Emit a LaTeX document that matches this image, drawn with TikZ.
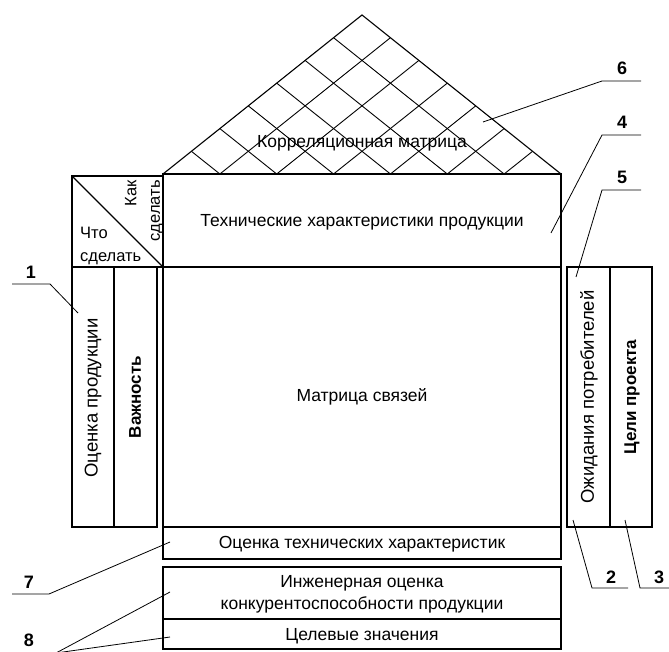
\documentclass[tikz,border=0pt]{standalone}
\usepackage{fontspec}
\setmainfont{Liberation Sans}
\usetikzlibrary{calc}
\begin{document}
\begin{tikzpicture}[x=1pt,y=-1pt,
  frame/.style={draw=black,line width=1.1pt},
  grid/.style={draw=black,line width=0.9pt},
  lead/.style={draw=black,line width=0.8pt},
  lbl/.style={inner sep=0pt,font=\fontsize{17.5}{22}\selectfont},
  clbl/.style={inner sep=0pt,font=\fontsize{16.5}{23.5}\selectfont},
  vlbl/.style={inner sep=0pt,font=\fontsize{18.5}{22}\selectfont},
  blbl/.style={inner sep=0pt,font=\fontsize{17}{22}\selectfont\bfseries},
  num/.style={inner sep=0pt,font=\fontsize{18}{20}\selectfont\bfseries}]
\useasboundingbox (0,0) rectangle (669,652);
% roof
\coordinate (L) at (163,174);
\coordinate (R) at (561,174);
\coordinate (A) at (362,15);
\foreach \i in {1,...,6}{
  \draw[grid] ($(L)!\i/7!(R)$) -- ($(R)!{(7-\i)/7}!(A)$);
  \draw[grid] ($(L)!\i/7!(R)$) -- ($(L)!\i/7!(A)$);
}
\draw[frame] (L) -- (A) -- (R);
\node[lbl] (corr) at (362,143) {Корреляционная матрица};
% technical characteristics
\draw[frame] (163,174) rectangle (561,267);
\node[lbl] (tech) at (362,222) {Технические характеристики продукции};
% corner box
\draw[frame] (72,176) rectangle (163,267);
\draw[frame] (72,176) -- (163,267);
\node[clbl,align=left,anchor=west] (what) at (80,246) {Что\\сделать};
\node[clbl,align=right,rotate=90,anchor=east] (how) at (144,180) {Как\\сделать};
% left columns
\draw[frame] (72,267) rectangle (157,527);
\draw[frame] (114,267) -- (114,527);
\node[vlbl,rotate=90] (evalp) at (93,398) {Оценка продукции};
\node[blbl,rotate=90] (imp) at (135,397) {Важность};
% main matrix
\draw[frame] (163,267) rectangle (561,527);
\node[lbl] (rel) at (362,397) {Матрица связей};
% right columns
\draw[frame] (567,267) rectangle (652,527);
\draw[frame] (610,267) -- (610,527);
\node[vlbl,rotate=90] (exp) at (589,397) {Ожидания потребителей};
\node[blbl,rotate=90] (goal) at (632,397) {Цели проекта};
% bottom boxes
\draw[frame] (163,527) rectangle (561,559);
\node[lbl] (evalt) at (362,544) {Оценка технических характеристик};
\draw[frame] (163,567) rectangle (561,649);
\draw[frame] (163,619) -- (561,619);
\node[lbl,align=center] (eng) at (362,594) {Инженерная оценка\\конкурентоспособности продукции};
\node[lbl] (target) at (362,636) {Целевые значения};
% number labels
\node[num] (n1) at (31,272) {1};
\node[num] (n6) at (622,68) {6};
\node[num] (n4) at (622,122) {4};
\node[num] (n5) at (622,177) {5};
\node[num] (n2) at (611,577) {2};
\node[num] (n3) at (659,577) {3};
\node[num] (n7) at (29,582) {7};
\node[num] (n8) at (29,640) {8};
% leader coordinates
\coordinate (a1) at (12,284); \coordinate (b1) at (50,284); \coordinate (c1) at (78,313);
\coordinate (a6) at (641,81); \coordinate (b6) at (602,81); \coordinate (c6) at (483,122);
\coordinate (a4) at (641,135); \coordinate (b4) at (602,135); \coordinate (c4) at (551,233);
\coordinate (a5) at (641,190); \coordinate (b5) at (602,190); \coordinate (c5) at (576,277);
\coordinate (a2) at (573,520); \coordinate (b2) at (592,588); \coordinate (c2) at (628,588);
\coordinate (a3) at (625,520); \coordinate (b3) at (640,588); \coordinate (c3) at (669,588);
\coordinate (a7) at (12,594); \coordinate (b7) at (49,594); \coordinate (c7) at (170,542);
\coordinate (b8) at (56,653); \coordinate (c8) at (170,592); \coordinate (d8) at (170,637);
\draw[lead] (a1) -- (b1) -- (c1);
\draw[lead] (a6) -- (b6) -- (c6);
\draw[lead] (a4) -- (b4) -- (c4);
\draw[lead] (a5) -- (b5) -- (c5);
\draw[lead] (a2) -- (b2) -- (c2);
\draw[lead] (a3) -- (b3) -- (c3);
\draw[lead] (a7) -- (b7) -- (c7);
\draw[lead] (c8) -- (b8) -- (d8);
\end{tikzpicture}
\end{document}
